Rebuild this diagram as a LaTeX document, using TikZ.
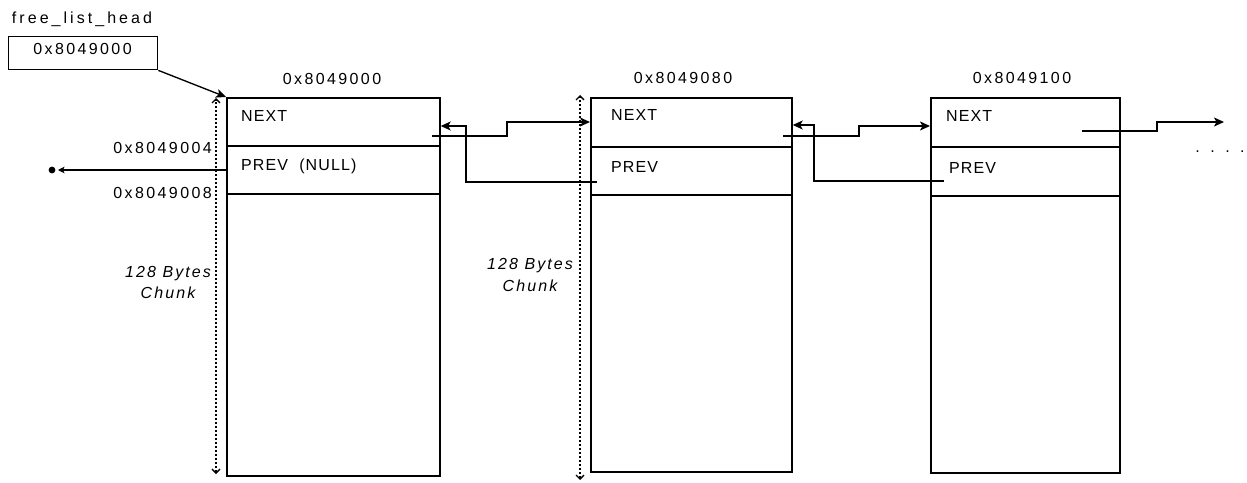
\documentclass[tikz,border=0pt]{standalone}
\usepackage{fontspec}
\setmainfont{Liberation Sans}
\newfontfamily\addrfont[LetterSpace=15]{Liberation Sans}
\newfontfamily\headfont[LetterSpace=19]{Liberation Sans}
\newfontfamily\fldfont[LetterSpace=7]{Liberation Sans}
\newfontfamily\chunkfont[LetterSpace=13]{Liberation Sans}
\usetikzlibrary{arrows.meta}
\begin{document}
\begin{tikzpicture}[x=1pt,y=-1pt,
  cell/.style={draw, line width=1.7pt, inner sep=0pt, anchor=north west},
  addr/.style={inner sep=0pt, font=\addrfont\fontsize{16}{19}\selectfont},
  fld/.style={inner sep=0pt, anchor=west, font=\fldfont\fontsize{16}{19}\selectfont},
  chunklbl/.style={inner sep=0pt, align=center, font=\chunkfont\itshape\fontsize{16}{21.5}\selectfont},
  link/.style={draw, line width=1.35pt, -{Stealth[length=10pt,width=9pt,inset=2.5pt]}},
  span/.style={draw, line width=1.6pt, dash pattern=on 2pt off 2pt,
    {Straight Barb[length=4pt,width=8pt,line width=1.3pt]}-{Straight Barb[length=4pt,width=8pt,line width=1.3pt]}}
]
\useasboundingbox (0,0) rectangle (1247,482);
% head pointer
\node[inner sep=0pt, font=\headfont\fontsize{16}{19}\selectfont, anchor=base] (hl) at (82,23) {free\_list\_head};
\node[cell, line width=1.4pt, minimum width=149pt, minimum height=33pt] (head) at (8,36) {};
\node[addr] (hv) at (82.5,48.5) {0x8049000};
% chunk 1
\node[cell, minimum width=213pt, minimum height=48pt] (c1n) at (226,97) {};
\node[cell, minimum width=213pt, minimum height=48pt] (c1p) at (226,145) {};
\node[cell, minimum width=213pt, minimum height=282pt] (c1b) at (226,193) {};
% chunk 2
\node[cell, minimum width=201pt, minimum height=49pt] (c2n) at (590,97) {};
\node[cell, minimum width=201pt, minimum height=48pt] (c2p) at (590,146) {};
\node[cell, minimum width=201pt, minimum height=277pt] (c2b) at (590,194) {};
% chunk 3
\node[cell, minimum width=189pt, minimum height=49pt] (c3n) at (930,97) {};
\node[cell, minimum width=189pt, minimum height=49pt] (c3p) at (930,146) {};
\node[cell, minimum width=189pt, minimum height=277pt] (c3b) at (930,195) {};
% field texts
\node[fld] (t1n) at (241,116) {NEXT};
\node[fld] (t1p) at (241,166) {PREV\ \ (NULL)};
\node[fld] (t2n) at (611,115) {NEXT};
\node[fld] (t2p) at (611,166.5) {PREV};
\node[fld] (t3n) at (946,115.5) {NEXT};
\node[fld] (t3p) at (949,167.5) {PREV};
% addresses
\node[addr] (a1) at (332,79) {0x8049000};
\node[addr] (a2) at (683,78) {0x8049080};
\node[addr] (a3) at (1022,78) {0x8049100};
\node[addr, anchor=east] (a4) at (212,148) {0x8049004};
\node[addr, anchor=east] (a5) at (212,193) {0x8049008};
% chunk size labels
\node[chunklbl] (s1) at (168,282.5) {128 Bytes\\Chunk};
\node[chunklbl] (s2) at (530,275) {128 Bytes\\Chunk};
\node[inner sep=0pt, font=\fontsize{16}{18}\selectfont] (more) at (1220,152) {.\hspace{10.5pt}.\hspace{10.5pt}.\hspace{10.5pt}.};
% span arrows
\coordinate (d1t) at (216,98); \coordinate (d1b) at (216,474);
\coordinate (d2t) at (580,95); \coordinate (d2b) at (580,480);
\draw[span] (d1b) -- (d1t);
\draw[span] (d2b) -- (d2t);
% head arrow
\draw[link] (head.south east) -- (c1n.north west);
% null prev
\coordinate (nul) at (58,170);
\draw[line width=1.35pt, -{Stealth[length=6.5pt,width=6.5pt,inset=1.5pt]}] (c1p.west |- nul) -- (nul);
\fill (52,170) circle (3.4pt);
% links
\coordinate (o1) at (432,136); \coordinate (i2) at (c2n.west |- 0,122);
\draw[link] (o1) -- (507,136) -- (507,122) -- (i2);
\coordinate (b2) at (597,182); \coordinate (e1) at (c1n.east |- 0,126);
\draw[link] (b2) -- (466,182) -- (466,126) -- (e1);
\coordinate (o2) at (783,136); \coordinate (i3) at (c3n.west |- 0,126);
\draw[link] (o2) -- (859,136) -- (859,126) -- (i3);
\coordinate (b3) at (944,181); \coordinate (e2) at (c2n.east |- 0,125);
\draw[link] (b3) -- (814,181) -- (814,125) -- (e2);
\coordinate (o3) at (1082,131); \coordinate (nx) at (1224,122);
\draw[link] (o3) -- (1157,131) -- (1157,122) -- (nx);
\end{tikzpicture}
\end{document}
